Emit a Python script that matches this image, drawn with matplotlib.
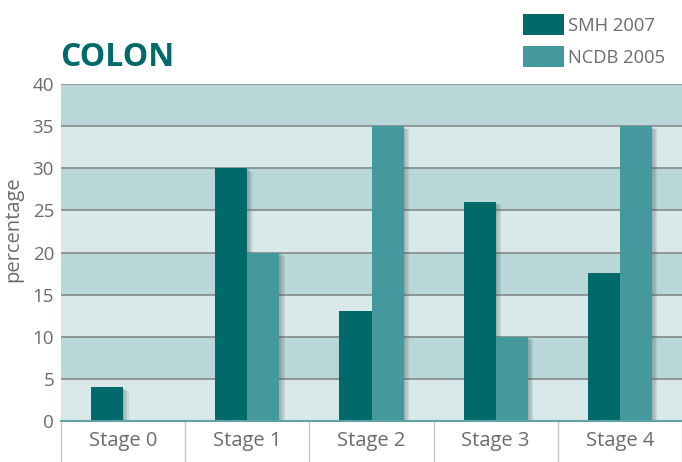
import numpy as np
import matplotlib
matplotlib.use("Agg")
import matplotlib.pyplot as plt
import matplotlib.patheffects as pe
from matplotlib.patches import Patch

plt.rcParams['font.family'] = ['Open Sans', 'DejaVu Sans']

categories = ["Stage 0", "Stage 1", "Stage 2", "Stage 3", "Stage 4"]
smh_2007 = [4, 30, 13, 26, 17.6]
ncdb_2005 = [0, 20, 35, 10, 35]
series_labels = ["SMH 2007", "NCDB 2005"]
y_ticks = [0, 5, 10, 15, 20, 25, 30, 35, 40]

DARK = "#006a6a"
LIGHT = "#43999b"
BAND_DARK = "#b9d7d9"
BAND_LIGHT = "#d9e8e8"
GRID = "#8a8f8f"
TEXT = "#6b6b6b"

fig = plt.figure(figsize=(6.82, 4.62), dpi=100)
ax = fig.add_axes([61 / 682, 41 / 462, 621 / 682, 337 / 462])

# alternating horizontal bands
for i, (lo, hi) in enumerate(zip(y_ticks[:-1], y_ticks[1:])):
    ax.axhspan(lo, hi, color=BAND_LIGHT if i % 2 == 0 else BAND_DARK, zorder=0, lw=0)
for y in y_ticks[1:]:
    ax.axhline(y, color=GRID, lw=1.3, zorder=1)

x = np.arange(len(categories))
w = 0.258
# soft drop shadow built from a few faint offset copies
shadow = [pe.SimplePatchShadow(offset=(d, -d * 0.6), shadow_rgbFace="#3a4a4a", alpha=0.10)
          for d in (1, 2, 3, 4)] + [pe.Normal()]
b1 = ax.bar(x - w / 2, smh_2007, w, color=DARK, zorder=3, label=series_labels[0])
b2 = ax.bar(x + w / 2, ncdb_2005, w, color=LIGHT, zorder=3, label=series_labels[1])
for bar in list(b1) + list(b2):
    if bar.get_height() > 0:
        bar.set_path_effects(shadow)

ax.set_xlim(-0.5, len(categories) - 0.5)
ax.set_ylim(0, 40)

# category separators as long major ticks; labels on minor ticks
ax.set_xticks(np.arange(-0.5, len(categories), 1.0))
ax.set_xticklabels([])
ax.tick_params(axis='x', which='major', length=30, width=1, color="#c4c8c8", direction='out')
ax.set_xticks(x, minor=True)
ax.set_xticklabels(categories, minor=True, fontsize=14.5, color=TEXT)
ax.tick_params(axis='x', which='minor', length=0, pad=7)

ax.set_yticks(y_ticks)
ax.set_yticklabels([str(v) for v in y_ticks], fontsize=13.5, color=TEXT)
ax.tick_params(axis='y', length=0, pad=5)
ax.set_ylabel("percentage", fontsize=14.5, color=TEXT)
ax.yaxis.set_label_coords(-0.060, 0.57)

for s in ["top", "right", "left"]:
    ax.spines[s].set_visible(False)
ax.spines["bottom"].set_color("#5fa3a5")
ax.spines["bottom"].set_linewidth(1.5)
ax.spines["bottom"].set_zorder(4)

fig.text(60 / 682, 1 - 57 / 462, "COLON", fontsize=23, fontweight='bold',
         color=DARK, va='center', ha='left')

handles = [Patch(facecolor=DARK, label=series_labels[0]),
           Patch(facecolor=LIGHT, label=series_labels[1])]
fig.legend(handles=handles, loc='upper right', bbox_to_anchor=(1.0, 1.006),
           frameon=False, fontsize=13.2, labelcolor=TEXT,
           handlelength=2.2, handleheight=1.45, handletextpad=0.25, labelspacing=0.55)

fig.savefig("out.png", dpi=100)
